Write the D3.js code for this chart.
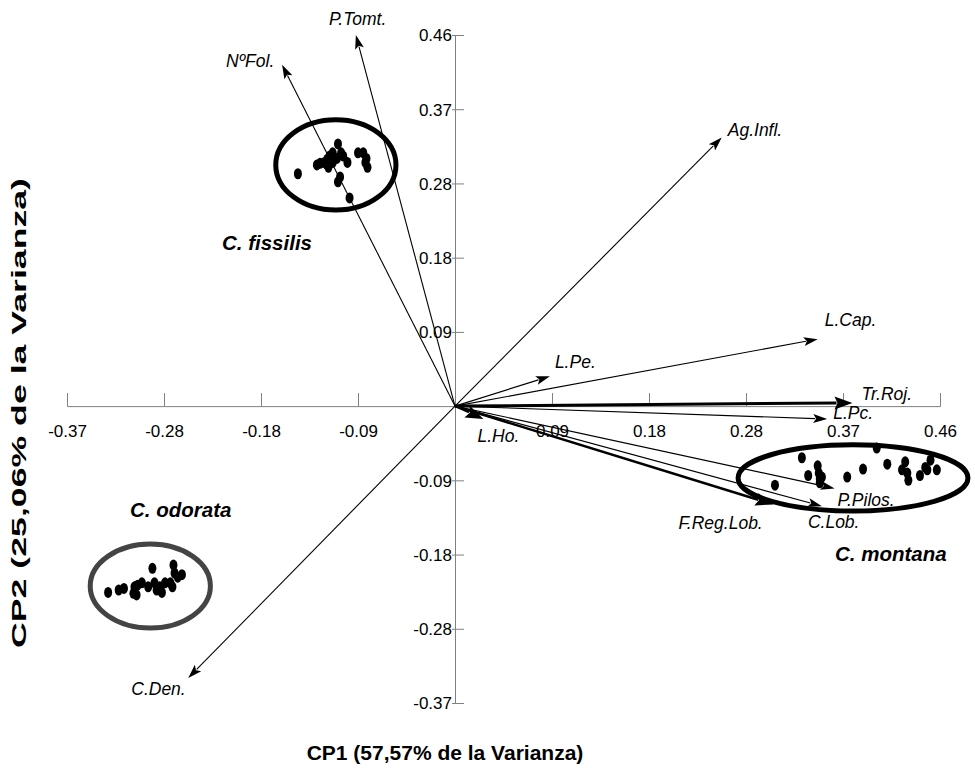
<!DOCTYPE html>
<html>
<head>
<meta charset="utf-8">
<script src="https://cdn.jsdelivr.net/npm/d3@7"></script>
<style>
  body { margin: 0; background: #fff; }
  svg { display: block; font-family: "Liberation Sans", Arial, sans-serif; }
  .axis path, .axis line { stroke: #808080; stroke-width: 1; }
  .axis text { font-size: 17px; fill: #000; }
  .vlabel { font-size: 17.5px; font-style: italic; }
  .glabel { font-size: 20.5px; font-style: italic; font-weight: bold; }
  .title { font-size: 21px; font-weight: bold; }
</style>
</head>
<body>
<div class="chart"></div>
<script>
// tick positions on both axes (labels shown with 2 decimals)
var tickValues = [-0.368, -0.276, -0.184, -0.092, 0.092, 0.184, 0.276, 0.368, 0.46];

// variable loadings (arrow tips)
var variables = ['P.Tomt.', 'NºFol.', 'Ag.Infl.', 'L.Cap.', 'L.Pe.', 'Tr.Roj.', 'L.Pc.', 'L.Ho.', 'P.Pilos.', 'C.Lob.', 'F.Reg.Lob.', 'C.Den.'];
var cp1Load = [-0.094, -0.164, 0.253, 0.344, 0.090, 0.377, 0.353, 0.027, 0.360, 0.348, 0.302, -0.253];
var cp2Load = [0.460, 0.423, 0.333, 0.083, 0.037, 0.004, -0.016, -0.016, -0.102, -0.124, -0.122, -0.337];

// scores per species
var fissilisCP1 = [-0.149, -0.131, -0.128, -0.124, -0.121, -0.119, -0.116, -0.116, -0.112, -0.111, -0.108, -0.106, -0.102, -0.109, -0.111, -0.100, -0.092, -0.087, -0.084, -0.083, -0.085, -0.120, -0.122];
var fissilisCP2 = [0.288, 0.299, 0.301, 0.302, 0.306, 0.310, 0.314, 0.302, 0.307, 0.325, 0.314, 0.310, 0.302, 0.284, 0.278, 0.258, 0.314, 0.314, 0.307, 0.296, 0.302, 0.296, 0.300];

var odorataCP1 = [-0.329, -0.319, -0.314, -0.305, -0.304, -0.301, -0.297, -0.287, -0.291, -0.285, -0.283, -0.280, -0.275, -0.267, -0.266, -0.263, -0.259, -0.270, -0.268, -0.278, -0.302];
var odorataCP2 = [-0.231, -0.228, -0.226, -0.232, -0.224, -0.222, -0.219, -0.201, -0.224, -0.219, -0.228, -0.224, -0.219, -0.197, -0.207, -0.212, -0.209, -0.219, -0.224, -0.231, -0.234];

var montanaCP1 = [0.3035, 0.329, 0.335, 0.344, 0.345, 0.346, 0.348, 0.346, 0.372, 0.387, 0.400, 0.410, 0.427, 0.424, 0.429, 0.430, 0.441, 0.446, 0.451, 0.448, 0.457];
var montanaCP2 = [-0.098, -0.064, -0.086, -0.074, -0.083, -0.090, -0.088, -0.095, -0.088, -0.078, -0.052, -0.072, -0.069, -0.079, -0.083, -0.092, -0.086, -0.076, -0.067, -0.079, -0.079];

// group envelopes: centre and radii in score units
var groupNames = ['C. fissilis', 'C. odorata', 'C. montana'];
var envelopeCP1 = [-0.113, -0.289, 0.3775];
var envelopeCP2 = [0.299, -0.223, -0.089];
var envelopeR1 = [0.057, 0.057, 0.109];
var envelopeR2 = [0.056, 0.052, 0.041];

// layout only
var width = 975, height = 772;
var labelOffset = {
  'P.Tomt.': [-27, -10], 'NºFol.': [-56, 2], 'Ag.Infl.': [6, -1], 'L.Cap.': [7, -13],
  'L.Pe.': [5, -8], 'Tr.Roj.': [9, -3], 'L.Pc.': [6, 0], 'L.Ho.': [-6, 23],
  'P.Pilos.': [3, 18], 'C.Lob.': [-14, 22], 'F.Reg.Lob.': [-95, 24], 'C.Den.': [-57, 17]
};
var lineWidth = {'Tr.Roj.': 3, 'F.Reg.Lob.': 2.5, 'L.Ho.': 2};
var groupLabelPos = [[222, 250], [130, 517], [835, 561]];
var envelopeStroke = ['#000', '#444', '#000'];

var x = d3.scaleLinear().domain([-0.368, 0.46]).range([67, 940]);
var y = d3.scaleLinear().domain([-0.368, 0.46]).range([703, 35]);
var x0 = x(0), y0 = y(0);

var svg = d3.select('.chart').append('svg')
  .attr('width', width)
  .attr('height', height);

// horizontal axis, ticks pointing up, labels below
var gx = svg.append('g').attr('class', 'axis')
  .attr('transform', 'translate(0,' + y0 + ')')
  .call(d3.axisTop(x).tickValues(tickValues).tickSizeOuter(0).tickSize(13)
    .tickFormat(function (d) { return d.toFixed(2); }));
gx.selectAll('.tick text').attr('y', 31).attr('dy', 0);

// vertical axis
var gy = svg.append('g').attr('class', 'axis')
  .attr('transform', 'translate(' + x0 + ',0)')
  .call(d3.axisRight(y).tickValues(tickValues).tickSizeOuter(0).tickSize(9)
    .tickFormat(function (d) { return d.toFixed(2); }));
gy.selectAll('.tick line').attr('x1', -3);
gy.selectAll('.tick text').attr('x', -3).attr('dy', '0.35em').attr('text-anchor', 'end');

// envelopes
groupNames.forEach(function (name, i) {
  svg.append('ellipse')
    .attr('cx', x(envelopeCP1[i]))
    .attr('cy', y(envelopeCP2[i]))
    .attr('rx', x(envelopeR1[i]) - x0)
    .attr('ry', y0 - y(envelopeR2[i]))
    .attr('fill', 'none')
    .attr('stroke', envelopeStroke[i])
    .attr('stroke-width', 5);
  svg.append('text')
    .attr('class', 'glabel')
    .attr('x', groupLabelPos[i][0])
    .attr('y', groupLabelPos[i][1])
    .text(name);
});

// arrows
variables.forEach(function (v, i) {
  var tx = x(cp1Load[i]), ty = y(cp2Load[i]);
  var w = lineWidth[v] || 1.1;
  var len = w > 1.5 ? 18 : 14, half = w > 1.5 ? 6.5 : 4.5;
  var dx = tx - x0, dy = ty - y0, d = Math.sqrt(dx * dx + dy * dy);
  var ux = dx / d, uy = dy / d;
  var bx = tx - ux * len, by = ty - uy * len;
  svg.append('line')
    .attr('x1', x0).attr('y1', y0)
    .attr('x2', tx - ux * (len - 2)).attr('y2', ty - uy * (len - 2))
    .attr('stroke', '#000').attr('stroke-width', w);
  svg.append('polygon')
    .attr('points', [[tx, ty], [bx - uy * half, by + ux * half], [bx + ux * 3, by + uy * 3], [bx + uy * half, by - ux * half]].join(' '))
    .attr('fill', '#000');
  var off = labelOffset[v];
  svg.append('text')
    .attr('class', 'vlabel')
    .attr('x', tx + off[0])
    .attr('y', ty + off[1])
    .text(v);
});

// points
function drawPoints(xs, ys) {
  svg.append('g').selectAll('ellipse')
    .data(xs)
    .enter()
    .append('ellipse')
    .attr('cx', function (d) { return x(d); })
    .attr('cy', function (d, i) { return y(ys[i]); })
    .attr('rx', 4)
    .attr('ry', 5.5)
    .attr('fill', '#000');
}
drawPoints(fissilisCP1, fissilisCP2);
drawPoints(odorataCP1, odorataCP2);
drawPoints(montanaCP1, montanaCP2);

// axis titles
svg.append('text')
  .attr('class', 'title')
  .attr('x', 445)
  .attr('y', 760)
  .attr('text-anchor', 'middle')
  .text('CP1 (57,57% de la Varianza)');

// the vertical title is drawn stretched along its length, as in the original
svg.append('text')
  .attr('class', 'title')
  .attr('transform', 'translate(26,413) rotate(-90)')
  .attr('text-anchor', 'middle')
  .attr('textLength', 470)
  .attr('lengthAdjust', 'spacingAndGlyphs')
  .text('CP2 (25,06% de la Varianza)');
</script>
</body>
</html>
